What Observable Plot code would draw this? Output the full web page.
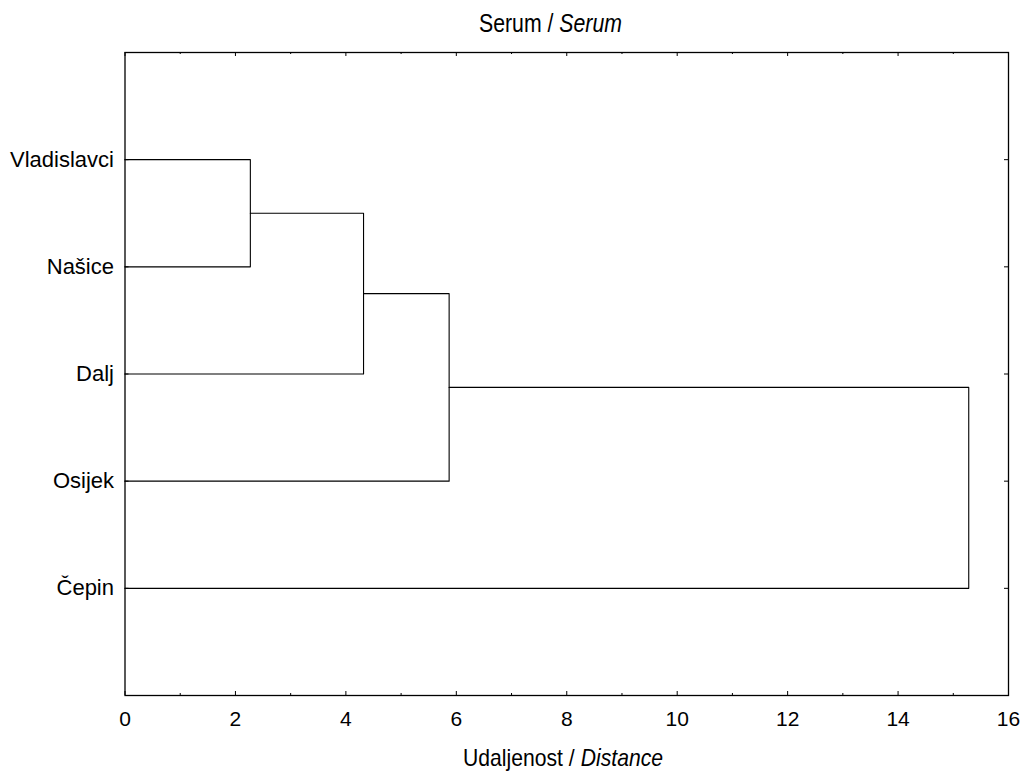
<!DOCTYPE html>
<html>
<head>
<meta charset="utf-8">
<script src="https://cdn.jsdelivr.net/npm/d3@7"></script>
<script src="https://cdn.jsdelivr.net/npm/@observablehq/plot@0.6"></script>
<style>
  html, body { margin: 0; padding: 0; background: #fff; }
  #chart svg { display: block; }
</style>
</head>
<body>
<div id="chart"></div>
<script>
// ---- Data ----
const leaves = ["Vladislavci", "Našice", "Dalj", "Osijek", "Čepin"];
const mergeLeft = ["Vladislavci", "C1", "C2", "C3"];
const mergeRight = ["Našice", "Dalj", "Osijek", "Čepin"];
const mergeName = ["C1", "C2", "C3", "C4"];
const mergeHeight = [2.27, 4.32, 5.87, 15.28];
const xMajorTicks = [0, 2, 4, 6, 8, 10, 12, 14, 16];
const xMinorTicks = [1, 3, 5, 7, 9, 11, 13, 15];
const titleMain = "Serum /";
const titleItalic = "Serum";
const xLabelMain = "Udaljenost /";
const xLabelItalic = "Distance";

// ---- Build dendrogram geometry from the tree ----
const nodes = new Map();
leaves.forEach((name, i) => nodes.set(name, {y: leaves.length - i, h: 0}));
const paths = [];
mergeName.forEach((name, k) => {
  const a = nodes.get(mergeLeft[k]);
  const b = nodes.get(mergeRight[k]);
  const h = mergeHeight[k];
  paths.push({k, x: a.h, y: a.y}, {k, x: h, y: a.y}, {k, x: h, y: b.y}, {k, x: b.h, y: b.y});
  nodes.set(name, {y: (a.y + b.y) / 2, h});
});
const leafY = leaves.map((d, i) => leaves.length - i);

const font = "'Liberation Sans', Arial, sans-serif";

const plot = Plot.plot({
  width: 1023,
  height: 771,
  marginLeft: 124.5,
  marginRight: 15,
  marginTop: 52,
  marginBottom: 76,
  style: {fontFamily: font, fontSize: "21px", color: "#000", background: "#fff"},
  x: {domain: [0, 16]},
  y: {domain: [0, 6]},
  marks: [
    Plot.axisX(xMajorTicks, {tickSize: 0, tickPadding: 16, fontSize: 21, label: null}),
    Plot.axisY(leafY, {tickSize: 0, tickPadding: 11, fontSize: 22, label: null, tickFormat: v => leaves[leaves.length - v]}),
    // inward ticks: bottom & top
    Plot.ruleX(xMajorTicks, {x: d => d, y1: 0, y2: 0, insetTop: -4, stroke: "#000"}),
    Plot.ruleX(xMinorTicks, {x: d => d, y1: 0, y2: 0, insetTop: -2, stroke: "#000"}),
    Plot.ruleX(xMajorTicks, {x: d => d, y1: 6, y2: 6, insetBottom: -4, stroke: "#000"}),
    Plot.ruleX(xMinorTicks, {x: d => d, y1: 6, y2: 6, insetBottom: -2, stroke: "#000"}),
    // inward ticks: left & right
    Plot.ruleY(leafY, {y: d => d, x1: 16, x2: 16, insetLeft: -4, stroke: "#000"}),
    Plot.ruleY(leafY, {y: d => d, x1: 0, x2: 0, insetRight: -4, stroke: "#000"}),
    Plot.line(paths, {x: "x", y: "y", z: "k", stroke: "#000", strokeWidth: 1.1, curve: "linear"}),
    Plot.frame({stroke: "#000", strokeWidth: 1.3})
  ]
});

document.getElementById("chart").appendChild(plot);

// Mixed-style (regular + italic) condensed labels, placed after measuring
function mixedLabel(cx, baseline, size, targetWidth, main, italic) {
  const g = d3.select(plot).append("g").attr("text-anchor", "start");
  const a = g.append("text").attr("text-anchor", "start").attr("font-family", font).attr("font-size", size)
    .attr("fill", "#000").text(main);
  const b = g.append("text").attr("text-anchor", "start").attr("font-family", font).attr("font-size", size)
    .attr("font-style", "italic").attr("fill", "#000").text(italic);
  const wa = a.node().getBBox().width;
  const wb = b.node().getBBox().width;
  const gap = 0.278 * size;
  const total = wa + gap + wb;
  a.attr("x", -total / 2);
  b.attr("x", -total / 2 + wa + gap);
  g.attr("transform", `translate(${cx},${baseline}) scale(${targetWidth / total},1)`);
}
mixedLabel(550.5, 31.5, 25, 143, titleMain, titleItalic);
mixedLabel(563, 766, 24, 200, xLabelMain, xLabelItalic);
</script>
</body>
</html>
